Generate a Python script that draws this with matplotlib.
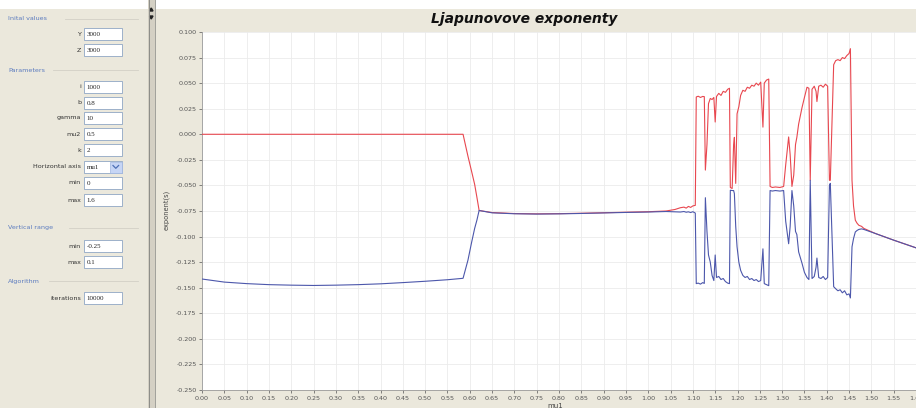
import matplotlib
matplotlib.use('Agg')
import numpy as np
import matplotlib.pyplot as plt
from matplotlib.patches import Rectangle, Polygon

# values (mu1, largest exponent, second exponent)
mu1 = [0.00, 0.05, 0.10, 0.15, 0.20, 0.25, 0.30, 0.35, 0.40, 0.45, 0.50, 0.55, 0.585,
       0.596, 0.604, 0.611, 0.616, 0.621,
       0.65, 0.70, 0.75, 0.80, 0.85, 0.90, 0.95, 1.00, 1.04, 1.06, 1.072, 1.08, 1.085,
       1.09, 1.095, 1.100, 1.1054,
       1.1076, 1.112, 1.117, 1.122, 1.1256, 1.128, 1.1316, 1.135, 1.139, 1.143, 1.147,
       1.150, 1.153, 1.158, 1.163, 1.168, 1.173, 1.178, 1.182,
       1.1839, 1.188, 1.1913, 1.193, 1.196, 1.199, 1.203, 1.207, 1.212, 1.217, 1.222,
       1.227, 1.232, 1.237, 1.242, 1.247, 1.252, 1.257, 1.260, 1.265, 1.270,
       1.273, 1.278, 1.285, 1.295, 1.3034, 1.308, 1.3146, 1.318, 1.322, 1.326, 1.330,
       1.333, 1.337, 1.3445, 1.350, 1.3557, 1.360, 1.363, 1.367, 1.372, 1.376, 1.378,
       1.382, 1.387, 1.392, 1.397, 1.402, 1.406, 1.408,
       1.4155, 1.420, 1.425, 1.430, 1.435, 1.440, 1.445, 1.450, 1.453,
       1.4566, 1.460, 1.464, 1.468, 1.472, 1.478, 1.483, 1.509, 1.55, 1.60]

lyap1 = [0.0, 0.0, 0.0, 0.0, 0.0, 0.0, 0.0, 0.0, 0.0, 0.0, 0.0, 0.0, 0.0,
         -0.0215, -0.036, -0.049, -0.0615, -0.0745,
         -0.0765, -0.0775, -0.0778, -0.0776, -0.0772, -0.0767, -0.0762, -0.0757, -0.0750,
         -0.0735, -0.0718, -0.0712, -0.0722,
         -0.0705, -0.0715, -0.0700, -0.0695,
         0.0365, 0.0372, 0.0360, 0.0370, 0.0368, -0.035, -0.010, 0.030, 0.035, 0.034, 0.036,
         0.012, 0.037, 0.040, 0.038, 0.042, 0.041, 0.044, 0.045,
         -0.052, -0.053, -0.010, -0.003, -0.048, 0.020, 0.027, 0.038, 0.043, 0.042, 0.046,
         0.045, 0.048, 0.047, 0.050, 0.048, 0.051, 0.007, 0.050, 0.053, 0.054,
         -0.051, -0.052, -0.0515, -0.052, -0.051, -0.030, -0.0026, -0.020, -0.051, -0.040, -0.010,
         -0.003, 0.010, 0.026, 0.036, 0.046, 0.045, -0.045, 0.044, 0.047, 0.042, 0.032,
         0.047, 0.048, 0.046, 0.049, 0.047, -0.045, -0.045,
         0.068, 0.072, 0.073, 0.072, 0.075, 0.074, 0.077, 0.079, 0.0837,
         -0.045, -0.070, -0.084, -0.087, -0.089, -0.090, -0.092, -0.097, -0.1035, -0.111]

lyap2 = [-0.1415, -0.1445, -0.1460, -0.1470, -0.1475, -0.1478, -0.1475, -0.1470, -0.1462,
         -0.1450, -0.1437, -0.1422, -0.1408,
         -0.123, -0.106, -0.092, -0.084, -0.0745,
         -0.0768, -0.0777, -0.0780, -0.0778, -0.0774, -0.0769, -0.0764, -0.0760, -0.0755,
         -0.0758, -0.0760, -0.0755, -0.0762,
         -0.0758, -0.0765, -0.0757, -0.0770,
         -0.146, -0.1455, -0.1465, -0.1450, -0.1458, -0.062, -0.095, -0.118, -0.125, -0.138, -0.143,
         -0.118, -0.140, -0.139, -0.142, -0.141, -0.144, -0.1455, -0.146,
         -0.0547, -0.055, -0.055, -0.058, -0.090, -0.110, -0.125, -0.133, -0.138, -0.140, -0.139,
         -0.142, -0.141, -0.143, -0.142, -0.144, -0.143, -0.112, -0.146, -0.147, -0.148,
         -0.055, -0.0555, -0.055, -0.0555, -0.055, -0.085, -0.107, -0.090, -0.055, -0.070, -0.095,
         -0.098, -0.115, -0.126, -0.135, -0.140, -0.142, -0.045, -0.141, -0.139, -0.130, -0.121,
         -0.140, -0.141, -0.139, -0.142, -0.140, -0.050, -0.048,
         -0.149, -0.151, -0.153, -0.152, -0.155, -0.153, -0.157, -0.156, -0.160,
         -0.110, -0.102, -0.0955, -0.094, -0.093, -0.0925, -0.093, -0.097, -0.1035, -0.111]

sections = ['Inital values', 'Parameters', 'Vertical range', 'Algorithm']
section_y = [19, 70, 228, 281]
field_names = ['Y', 'Z', 'i', 'b', 'gamma', 'mu2', 'k', 'Horizontal axis', 'min', 'max',
               'min', 'max', 'iterations']
field_values = ['3000', '3000', '1000', '0.8', '10', '0.5', '2', 'mu1', '0', '1.6',
                '-0.25', '0.1', '10000']
field_y = [34, 50, 87, 103, 118, 134, 150, 167, 183, 200, 246, 262, 298]

W, H = 916, 408
BG = '#ebe8dc'

fig = plt.figure(figsize=(W / 100, H / 100), dpi=100)
fig.patch.set_facecolor(BG)
fig.add_artist(Rectangle((0, 1 - 9 / H), 1, 9 / H, transform=fig.transFigure,
                         facecolor='white', edgecolor='none', zorder=0))

# left control panel, drawn in pixel coordinates
pan = fig.add_axes([0, 0, 160 / W, 1])
pan.set_xlim(0, 160)
pan.set_ylim(H, 0)
pan.axis('off')

for name, y in zip(sections, section_y):
    pan.text(8, y, name, fontsize=4.6, color='#5b7bbf', va='center', ha='left')
    pan.plot([8 + 4.1 * len(name) + 4, 138], [y, y], color='#d2d0c6', lw=0.6)

for name, val, y in zip(field_names, field_values, field_y):
    pan.text(81, y, name, fontsize=4.6, color='#333333', va='center', ha='right')
    pan.add_patch(Rectangle((84, y - 6), 38, 12, facecolor='white',
                            edgecolor='#8fa6c4', lw=0.6))
    pan.text(86.5, y + 0.5, val, fontsize=5, color='#222222', va='center', ha='left',
             family='Liberation Serif')
    if name == 'Horizontal axis':
        pan.add_patch(Rectangle((110, y - 5.5), 11.5, 11, facecolor='#c6d5f5',
                                edgecolor='#9fb6e0', lw=0.5))
        pan.plot([113, 115.8, 118.6], [y - 1.5, y + 1.3, y - 1.5], color='#4d6fb5', lw=0.9)

# splitter bar
pan.add_patch(Rectangle((148, 0), 7, H, facecolor='#d4d0c4', edgecolor='none'))
pan.plot([148.5, 148.5], [0, H], color='#8c8c88', lw=0.7)
pan.plot([154.5, 154.5], [0, H], color='#a0a09a', lw=0.7)
pan.add_patch(Polygon([[149.5, 11], [153, 11], [151.25, 8]], closed=True, color='#222222'))
pan.add_patch(Polygon([[149.5, 16], [153, 16], [151.25, 19]], closed=True, color='#222222'))

# chart
ax = fig.add_axes([202 / W, 1 - 390 / H, (W - 202) / W, (390 - 32) / H])
ax.set_facecolor('white')
ax.plot(mu1, lyap1, color='#e8474f', lw=0.8, zorder=3)
ax.plot(mu1, lyap2, color='#4c57ab', lw=0.8, zorder=4)

ax.set_xlim(0, 1.6)
ax.set_ylim(-0.25, 0.1)
xt = np.round(np.arange(0, 1.601, 0.05), 3)
yt = np.round(np.arange(-0.25, 0.1001, 0.025), 3)
ax.set_xticks(xt)
ax.set_xticklabels(['%.2f' % v for v in xt])
ax.set_yticks(yt)
ax.set_yticklabels(['%.3f' % (v + 0.0) for v in yt])
ax.tick_params(labelsize=4.6, colors='#555555', length=2, width=0.5, pad=2)
ax.grid(True, color='#ebebeb', lw=0.6)
ax.set_axisbelow(True)
for s in ['top', 'right']:
    ax.spines[s].set_visible(False)
for s in ['left', 'bottom']:
    ax.spines[s].set_color('#9a9a9a')
    ax.spines[s].set_linewidth(0.6)

fig.text(524 / W, 1 - 19 / H, 'Ljapunovove exponenty', ha='center', va='center',
         fontsize=10, fontweight='bold', style='italic', color='#111111')
fig.text(166 / W, 1 - 210 / H, 'exponent(s)', rotation=90, ha='center', va='center',
         fontsize=4.8, color='#444444')
fig.text(555 / W, 1 - 406 / H, 'mu1', ha='center', va='center', fontsize=5,
         color='#444444')

fig.savefig('out.png', dpi=100, facecolor=fig.get_facecolor())
